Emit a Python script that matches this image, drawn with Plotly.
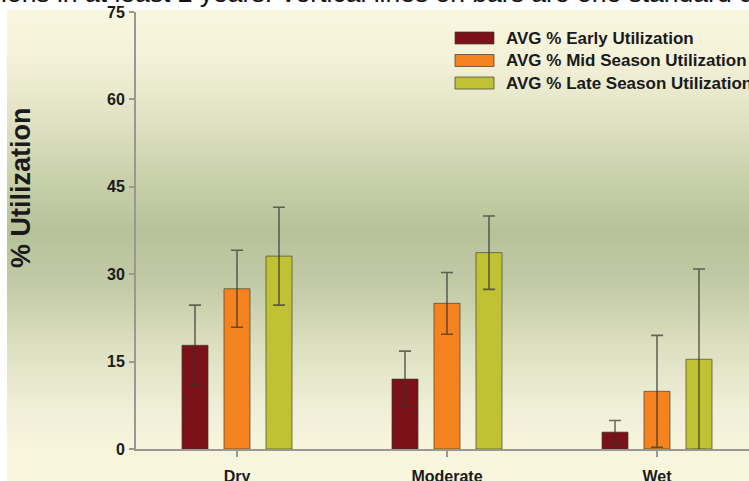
import plotly.graph_objects as go

categories = ["Dry", "Moderate", "Wet"]
series_names = ["AVG % Early Utilization", "AVG % Mid Season Utilization", "AVG % Late Season Utilization"]
early = [17.8, 12.0, 2.9]
early_sd = [6.9, 4.8, 2.0]
mid = [27.5, 25.0, 9.9]
mid_sd = [6.6, 5.3, 9.6]
late = [33.1, 33.7, 15.4]
late_sd = [8.4, 6.3, 15.5]
y_ticks = [0, 15, 30, 45, 60, 75]
caption = "ions in at least 2 years. Vertical lines on bars are one standard d"

colors = ["#7c1219", "#f4821f", "#c1c233"]
W, H = 749, 481
L, R, T, B = 136, 0, 12, 32
pw, ph = W - L - R, H - T - B

def px_x(p):
    return (p - L) / pw

def px_y(p):
    return (H - B - p) / ph

fig = go.Figure()
for name, vals, sds, col in zip(series_names, [early, mid, late], [early_sd, mid_sd, late_sd], colors):
    fig.add_trace(go.Bar(
        name=name, x=categories, y=vals, showlegend=False,
        marker=dict(color=col, line=dict(color="rgba(60,60,50,0.65)", width=1)),
        error_y=dict(type="data", array=sds, visible=True, color="rgba(50,50,45,0.7)", thickness=1.6, width=6),
    ))

# gradient background
stops = [(10, (250, 247, 224)), (60, (243, 241, 216)), (120, (224, 226, 196)), (180, (200, 208, 170)),
         (232, (183, 194, 153)), (285, (195, 202, 166)), (345, (220, 223, 192)), (405, (239, 238, 214)),
         (450, (248, 245, 221)), (481, (249, 246, 223))]

def col_at(p):
    for (p0, c0), (p1, c1) in zip(stops[:-1], stops[1:]):
        if p0 <= p <= p1:
            t = (p - p0) / (p1 - p0)
            return "rgb(%d,%d,%d)" % tuple(round(a + (b - a) * t) for a, b in zip(c0, c1))
    return "rgb(%d,%d,%d)" % stops[-1][1]

shapes = []
step = 2
p = 10
while p < 481:
    shapes.append(dict(type="rect", xref="paper", yref="paper", x0=px_x(7), x1=px_x(752),
                       y0=px_y(p + step + 0.5), y1=px_y(p), fillcolor=col_at(p + step / 2),
                       line=dict(width=0), layer="below"))
    p += step

# legend drawn as swatches + labels
annotations = []
legend_rows = [38, 60.5, 83]
for name, col, yc in zip(series_names, colors, legend_rows):
    shapes.append(dict(type="rect", xref="paper", yref="paper", x0=px_x(455), x1=px_x(494),
                       y0=px_y(yc + 6), y1=px_y(yc - 6), fillcolor=col,
                       line=dict(color="rgba(60,60,50,0.7)", width=1), layer="above"))
    annotations.append(dict(text=name, xref="paper", yref="paper", x=px_x(504), y=px_y(yc),
                            xanchor="left", yanchor="middle", showarrow=False,
                            font=dict(family="Liberation Sans", size=17, color="#1a1a1a", weight="bold")))

annotations += [
    dict(text="% Utilization", xref="paper", yref="paper", x=px_x(21), y=px_y(188),
         xanchor="center", yanchor="middle", textangle=-90, showarrow=False,
         font=dict(family="Liberation Sans", size=27, color="#1a1a1a", weight="bold")),
    dict(text=caption, xref="paper", yref="paper", x=px_x(-1), y=px_y(10),
         xanchor="left", yanchor="bottom", showarrow=False,
         font=dict(family="Liberation Sans", size=26.5, color="#111111")),
]

fig.update_layout(
    width=W, height=H,
    margin=dict(l=L, r=R, t=T, b=B, pad=0, autoexpand=False),
    paper_bgcolor="white", plot_bgcolor="rgba(0,0,0,0)",
    barmode="group", bargap=0.4, bargroupgap=0.38,
    shapes=shapes,
    showlegend=False,
    font=dict(family="Liberation Sans", color="#1a1a1a"),
    xaxis=dict(range=[(L - 237) / 210, (W - 237) / 210], showline=True, linecolor="#999990", linewidth=2,
               ticks="outside", ticklen=6, tickcolor="#999990", tickwidth=1.5,
               tickfont=dict(family="Liberation Sans", size=16, color="#1a1a1a", weight="bold"),
               ticklabelstandoff=6, showgrid=False, zeroline=False, automargin=False),
    yaxis=dict(range=[0, 75], tickvals=y_ticks, showline=True, linecolor="#999990", linewidth=2,
               ticks="outside", ticklen=5, tickcolor="#999990", tickwidth=1.5,
               tickfont=dict(family="Liberation Sans", size=16, color="#1a1a1a", weight="bold"),
               ticklabelstandoff=1, showgrid=False, zeroline=False, automargin=False),
    annotations=annotations,
)

fig.write_html("out.html", config={"displayModeBar": False},
               post_script="document.body.style.margin='0';document.body.style.overflow='hidden';")
